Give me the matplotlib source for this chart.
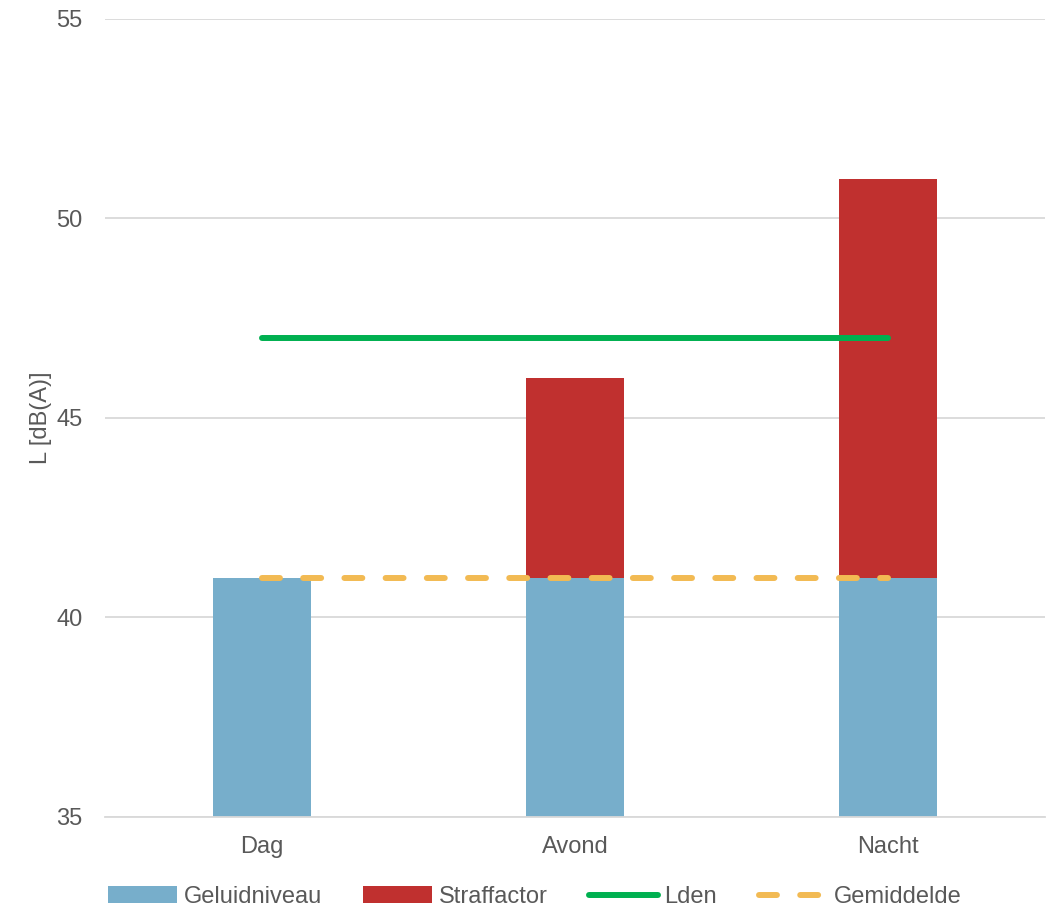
import matplotlib.pyplot as plt
import numpy as np

plt.rcParams['font.family'] = ['Liberation Sans', 'DejaVu Sans']

# ---- data ----
categories = ["Dag", "Avond", "Nacht"]
geluidniveau = [41, 41, 41]
straffactor = [0, 5, 10]
lden = [47, 47, 47]
gemiddelde = [41, 41, 41]

text_col = "#595959"
grid_col = "#D9D9D9"
fs = 17

fig = plt.figure(figsize=(10.46, 9.09), dpi=100)
ax = fig.add_axes([105 / 1046, 1 - 817 / 909, 940 / 1046, 798 / 909])

x = np.arange(len(categories))
base = 35
h1 = ax.bar(x, np.array(geluidniveau) - base, bottom=base, width=0.313,
            color="#77AECB", label="Geluidniveau", zorder=2)
h2 = ax.bar(x, straffactor, bottom=geluidniveau, width=0.313,
            color="#C0302F", label="Straffactor", zorder=2)
h3, = ax.plot(x, lden, color="#00B050", lw=4.3, solid_capstyle="round",
              label="Lden", zorder=3)
h4, = ax.plot(x, gemiddelde, color="#F2BA53", lw=4.3, dashes=(3.0, 3.9),
              dash_capstyle="round", label="Gemiddelde", zorder=3)

ax.set_xlim(-0.5, 2.5)
ax.set_ylim(35, 55)
ax.set_yticks([35, 40, 45, 50, 55])
ax.set_xticks(x)
ax.set_xticklabels(categories)
ax.yaxis.grid(True, color=grid_col, lw=1.3, zorder=0)
ax.set_axisbelow(True)
for s in ["top", "right", "left"]:
    ax.spines[s].set_visible(False)
ax.spines["bottom"].set_color(grid_col)
ax.spines["bottom"].set_linewidth(1.3)
ax.tick_params(axis="y", length=0, labelsize=fs, colors=text_col, pad=16)
ax.tick_params(axis="x", length=0, labelsize=fs, colors=text_col, pad=14)
ax.set_ylabel("L [dB(A)]", fontsize=fs, color=text_col, labelpad=3)

fig.legend([h1, h2, h3, h4], ["Geluidniveau", "Straffactor", "Lden", "Gemiddelde"],
           loc="center", bbox_to_anchor=(535 / 1046, 1 - 897 / 909), ncol=4,
           frameon=False, fontsize=fs, labelcolor=text_col,
           handlelength=2.9, handleheight=0.75, handletextpad=0.3,
           columnspacing=1.75, borderpad=0, borderaxespad=0)

fig.savefig("out.png", dpi=100)
